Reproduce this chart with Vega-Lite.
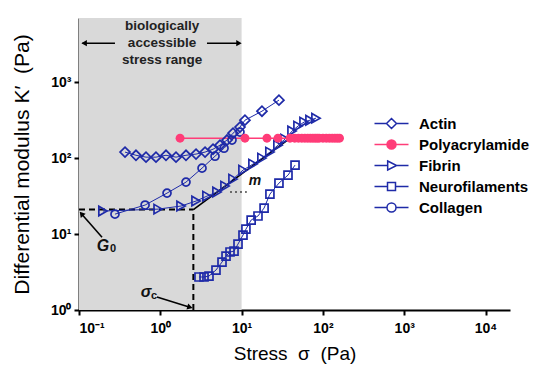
{
  "$schema": "https://vega.github.io/schema/vega-lite/v6.json",
  "width": 431,
  "height": 292,
  "autosize": "none",
  "padding": {"left": 79, "top": 18, "right": 23, "bottom": 60},
  "background": "white",
  "config": {
    "view": {"stroke": null},
    "font": "Liberation Sans",
    "legend": {
      "labelFont": "Liberation Sans",
      "labelFontSize": 15,
      "labelFontWeight": "bold",
      "labelColor": "black",
      "symbolSize": 289,
      "symbolStrokeWidth": 1.5,
      "symbolOpacity": 1,
      "rowPadding": 3,
      "labelOffset": 18
    }
  },
  "datasets": {
    "shade": [{"x0": 0.1, "x1": 10}],
    "series": [
      {"series": "Actin", "x": 0.368, "y": 120}, {"series": "Actin", "x": 0.502, "y": 109}, {"series": "Actin", "x": 0.667, "y": 103}, {"series": "Actin", "x": 0.885, "y": 103}, {"series": "Actin", "x": 1.175, "y": 109}, {"series": "Actin", "x": 1.56, "y": 103}, {"series": "Actin", "x": 2.07, "y": 109}, {"series": "Actin", "x": 2.75, "y": 113}, {"series": "Actin", "x": 3.55, "y": 120}, {"series": "Actin", "x": 4.45, "y": 131}, {"series": "Actin", "x": 5.42, "y": 148}, {"series": "Actin", "x": 6.61, "y": 173}, {"series": "Actin", "x": 7.84, "y": 213}, {"series": "Actin", "x": 9.55, "y": 256}, {"series": "Actin", "x": 11.0, "y": 316}, {"series": "Actin", "x": 17.8, "y": 415}, {"series": "Actin", "x": 28.8, "y": 580},
      {"series": "Polyacrylamide", "x": 1.75, "y": 183}, {"series": "Polyacrylamide", "x": 11.0, "y": 183}, {"series": "Polyacrylamide", "x": 20.5, "y": 183}, {"series": "Polyacrylamide", "x": 28, "y": 183}, {"series": "Polyacrylamide", "x": 39.4, "y": 183}, {"series": "Polyacrylamide", "x": 45, "y": 183}, {"series": "Polyacrylamide", "x": 50, "y": 183}, {"series": "Polyacrylamide", "x": 55, "y": 183}, {"series": "Polyacrylamide", "x": 60, "y": 183}, {"series": "Polyacrylamide", "x": 65, "y": 183}, {"series": "Polyacrylamide", "x": 70, "y": 183}, {"series": "Polyacrylamide", "x": 75, "y": 183}, {"series": "Polyacrylamide", "x": 80, "y": 183}, {"series": "Polyacrylamide", "x": 85, "y": 183}, {"series": "Polyacrylamide", "x": 90, "y": 183}, {"series": "Polyacrylamide", "x": 100, "y": 183}, {"series": "Polyacrylamide", "x": 110, "y": 183}, {"series": "Polyacrylamide", "x": 120, "y": 183}, {"series": "Polyacrylamide", "x": 130, "y": 183}, {"series": "Polyacrylamide", "x": 140, "y": 183}, {"series": "Polyacrylamide", "x": 150, "y": 183}, {"series": "Polyacrylamide", "x": 160, "y": 183},
      {"series": "Fibrin", "x": 0.197, "y": 20.1}, {"series": "Fibrin", "x": 0.94, "y": 21.3}, {"series": "Fibrin", "x": 1.8, "y": 23.4}, {"series": "Fibrin", "x": 2.75, "y": 27.2}, {"series": "Fibrin", "x": 3.75, "y": 31.6}, {"series": "Fibrin", "x": 4.98, "y": 35.7}, {"series": "Fibrin", "x": 6.25, "y": 42.8}, {"series": "Fibrin", "x": 7.84, "y": 52.9}, {"series": "Fibrin", "x": 10.4, "y": 69.5}, {"series": "Fibrin", "x": 13.8, "y": 83.4}, {"series": "Fibrin", "x": 17.8, "y": 100}, {"series": "Fibrin", "x": 22.3, "y": 120}, {"series": "Fibrin", "x": 28.0, "y": 148}, {"series": "Fibrin", "x": 34.2, "y": 178}, {"series": "Fibrin", "x": 41.7, "y": 227}, {"series": "Fibrin", "x": 49.4, "y": 264}, {"series": "Fibrin", "x": 58.6, "y": 298}, {"series": "Fibrin", "x": 69.4, "y": 316}, {"series": "Fibrin", "x": 82.2, "y": 336},
      {"series": "Neurofilaments", "x": 2.99, "y": 2.72}, {"series": "Neurofilaments", "x": 3.45, "y": 2.72}, {"series": "Neurofilaments", "x": 3.97, "y": 2.8}, {"series": "Neurofilaments", "x": 4.84, "y": 3.36}, {"series": "Neurofilaments", "x": 5.74, "y": 4.28}, {"series": "Neurofilaments", "x": 6.43, "y": 5.13}, {"series": "Neurofilaments", "x": 7.2, "y": 5.8}, {"series": "Neurofilaments", "x": 8.07, "y": 5.97}, {"series": "Neurofilaments", "x": 9.03, "y": 7.39}, {"series": "Neurofilaments", "x": 10.4, "y": 9.7}, {"series": "Neurofilaments", "x": 11.3, "y": 11.6}, {"series": "Neurofilaments", "x": 13.1, "y": 15.3}, {"series": "Neurofilaments", "x": 15.9, "y": 17.3}, {"series": "Neurofilaments", "x": 18.9, "y": 22.0}, {"series": "Neurofilaments", "x": 22.3, "y": 33.6}, {"series": "Neurofilaments", "x": 28.8, "y": 46.9}, {"series": "Neurofilaments", "x": 37.2, "y": 59.7}, {"series": "Neurofilaments", "x": 45.4, "y": 80.9},
      {"series": "Collagen", "x": 0.277, "y": 18.3}, {"series": "Collagen", "x": 0.65, "y": 24.1}, {"series": "Collagen", "x": 1.21, "y": 34.6}, {"series": "Collagen", "x": 2.07, "y": 48.3}, {"series": "Collagen", "x": 3.26, "y": 73.8}, {"series": "Collagen", "x": 4.71, "y": 106}, {"series": "Collagen", "x": 6.08, "y": 135}, {"series": "Collagen", "x": 7.62, "y": 173}, {"series": "Collagen", "x": 9.55, "y": 220}
    ],
    "dashed": [
      {"g": "h", "x": 0.1, "y": 21}, {"g": "h", "x": 2.55, "y": 21},
      {"g": "v", "x": 2.55, "y": 1}, {"g": "v", "x": 2.55, "y": 21}
    ],
    "solid": [
      {"g": "slope", "x": 2.55, "y": 21}, {"g": "slope", "x": 40, "y": 185},
      {"g": "g0", "x": 0.109, "y": 18.1}, {"g": "g0", "x": 0.192, "y": 9.1},
      {"g": "sc", "x": 0.91, "y": 1.48}, {"g": "sc", "x": 2.26, "y": 1.095},
      {"g": "topL", "x": 0.11, "y": 3260}, {"g": "topL", "x": 0.277, "y": 3260},
      {"g": "topR", "x": 3.75, "y": 3260}, {"g": "topR", "x": 9.2, "y": 3260}
    ],
    "dotted": [{"x": 7.2, "y": 35.7}, {"x": 11.6, "y": 35.7}],
    "heads": [
      {"h": "left", "x": 0.1186, "y": 3260},
      {"h": "right", "x": 9.04, "y": 3260},
      {"h": "g0", "x": 0.109, "y": 18.1},
      {"h": "sc", "x": 2.26, "y": 1.095}
    ],
    "notes": [
      {"k": "range", "x": 1.05, "y": 5460, "t": "biologically"},
      {"k": "range", "x": 1.05, "y": 3260, "t": "accessible"},
      {"k": "range", "x": 1.05, "y": 1946, "t": "stress range"},
      {"k": "big", "x": 0.197, "y": 6.95, "t": "G"},
      {"k": "sub", "x": 0.262, "y": 6.35, "t": "0"},
      {"k": "big", "x": 0.667, "y": 1.725, "t": "σ"},
      {"k": "sub", "x": 0.837, "y": 1.53, "t": "c"},
      {"k": "m", "x": 14.6, "y": 49.8, "t": "m"}
    ]
  },
  "layer": [
    {
      "data": {"name": "shade"},
      "mark": {"type": "rect", "color": "#d9d9d9"},
      "encoding": {
        "x": {"field": "x0", "type": "quantitative",
          "scale": {"type": "log", "domain": [0.1, 20000], "nice": false},
          "axis": {"title": "Stress\u00a0\u00a0σ\u00a0\u00a0(Pa)", "values": [0.1, 1, 10, 100, 1000, 10000],
            "labelExpr": "'10' + ['⁻¹','⁰','¹','²','³','⁴'][round(log(datum.value)/LN10)+1]",
            "grid": false, "domainColor": "black", "domainWidth": 2, "tickColor": "black", "tickWidth": 2, "tickSize": 5,
            "labelFont": "Liberation Sans", "labelFontSize": 14, "labelFontWeight": "bold", "labelColor": "black", "labelPadding": 6,
            "titleFont": "Liberation Sans", "titleFontSize": 19, "titleFontWeight": "normal", "titleColor": "black", "titlePadding": 9}},
        "x2": {"field": "x1"}
      }
    },
    {
      "data": {"name": "dashed"},
      "mark": {"type": "line", "color": "black", "strokeWidth": 2, "strokeDash": [6, 4]},
      "encoding": {
        "x": {"field": "x", "type": "quantitative", "scale": {"type": "log", "domain": [0.1, 20000], "nice": false}},
        "y": {"field": "y", "type": "quantitative",
          "scale": {"type": "log", "domain": [1, 7000], "nice": false},
          "axis": {"title": "Differential modulus K′\u00a0\u00a0(Pa)", "values": [1, 10, 100, 1000],
            "labelExpr": "'10' + ['⁻¹','⁰','¹','²','³','⁴'][round(log(datum.value)/LN10)+1]",
            "grid": false, "domainColor": "black", "domainWidth": 2, "tickColor": "black", "tickWidth": 2, "tickSize": 5,
            "labelFont": "Liberation Sans", "labelFontSize": 14, "labelFontWeight": "bold", "labelColor": "black", "labelPadding": 3,
            "titleFont": "Liberation Sans", "titleFontSize": 21, "titleFontWeight": "normal", "titleColor": "black", "titlePadding": 18}},
        "detail": {"field": "g"}
      }
    },
    {
      "data": {"name": "solid"},
      "mark": {"type": "line", "color": "black", "strokeWidth": 1.6},
      "encoding": {
        "x": {"field": "x", "type": "quantitative"},
        "y": {"field": "y", "type": "quantitative"},
        "detail": {"field": "g"}
      }
    },
    {
      "data": {"name": "dotted"},
      "mark": {"type": "line", "color": "#444", "strokeWidth": 1.5, "strokeDash": [2, 3]},
      "encoding": {
        "x": {"field": "x", "type": "quantitative"},
        "y": {"field": "y", "type": "quantitative"}
      }
    },
    {
      "data": {"name": "heads"},
      "transform": [{"filter": "datum.h == 'left'"}],
      "mark": {"type": "point", "shape": "triangle", "angle": 270, "filled": true, "color": "black", "size": 40, "opacity": 1},
      "encoding": {"x": {"field": "x", "type": "quantitative"}, "y": {"field": "y", "type": "quantitative"}}
    },
    {
      "data": {"name": "heads"},
      "transform": [{"filter": "datum.h == 'right'"}],
      "mark": {"type": "point", "shape": "triangle", "angle": 90, "filled": true, "color": "black", "size": 40, "opacity": 1},
      "encoding": {"x": {"field": "x", "type": "quantitative"}, "y": {"field": "y", "type": "quantitative"}}
    },
    {
      "data": {"name": "heads"},
      "transform": [{"filter": "datum.h == 'g0'"}],
      "mark": {"type": "point", "shape": "triangle", "angle": 320, "filled": true, "color": "black", "size": 40, "opacity": 1},
      "encoding": {"x": {"field": "x", "type": "quantitative"}, "y": {"field": "y", "type": "quantitative"}}
    },
    {
      "data": {"name": "heads"},
      "transform": [{"filter": "datum.h == 'sc'"}],
      "mark": {"type": "point", "shape": "triangle", "angle": 106, "filled": true, "color": "black", "size": 40, "opacity": 1},
      "encoding": {"x": {"field": "x", "type": "quantitative"}, "y": {"field": "y", "type": "quantitative"}}
    },
    {
      "data": {"name": "series"},
      "transform": [{"filter": "datum.series != 'Polyacrylamide'"}],
      "mark": {"type": "line", "color": "#1e2aa8", "strokeWidth": 1},
      "encoding": {
        "x": {"field": "x", "type": "quantitative"},
        "y": {"field": "y", "type": "quantitative"},
        "detail": {"field": "series"}
      }
    },
    {
      "data": {"name": "series"},
      "transform": [{"filter": "datum.series == 'Polyacrylamide'"}],
      "mark": {"type": "line", "color": "#ff3c78", "strokeWidth": 1.5},
      "encoding": {
        "x": {"field": "x", "type": "quantitative"},
        "y": {"field": "y", "type": "quantitative"}
      }
    },
    {
      "data": {"name": "series"},
      "transform": [{"filter": "datum.series == 'Actin'"}],
      "mark": {"type": "point", "shape": "diamond", "filled": false, "color": "#1e2aa8", "strokeWidth": 1.7, "size": 100, "opacity": 1},
      "encoding": {"x": {"field": "x", "type": "quantitative"}, "y": {"field": "y", "type": "quantitative"}}
    },
    {
      "data": {"name": "series"},
      "transform": [{"filter": "datum.series == 'Fibrin'"}],
      "mark": {"type": "point", "shape": "triangle-right", "filled": false, "color": "#1e2aa8", "strokeWidth": 1.7, "size": 90, "opacity": 1},
      "encoding": {"x": {"field": "x", "type": "quantitative"}, "y": {"field": "y", "type": "quantitative"}}
    },
    {
      "data": {"name": "series"},
      "transform": [{"filter": "datum.series == 'Neurofilaments'"}],
      "mark": {"type": "point", "shape": "square", "filled": false, "color": "#1e2aa8", "strokeWidth": 1.7, "size": 64, "opacity": 1},
      "encoding": {"x": {"field": "x", "type": "quantitative"}, "y": {"field": "y", "type": "quantitative"}}
    },
    {
      "data": {"name": "series"},
      "transform": [{"filter": "datum.series == 'Collagen'"}],
      "mark": {"type": "point", "shape": "circle", "filled": false, "color": "#1e2aa8", "strokeWidth": 1.7, "size": 64, "opacity": 1},
      "encoding": {"x": {"field": "x", "type": "quantitative"}, "y": {"field": "y", "type": "quantitative"}}
    },
    {
      "data": {"name": "series"},
      "transform": [{"filter": "datum.series == 'Polyacrylamide'"}],
      "mark": {"type": "point", "shape": "circle", "filled": true, "color": "#ff3c78", "size": 80, "opacity": 1},
      "encoding": {"x": {"field": "x", "type": "quantitative"}, "y": {"field": "y", "type": "quantitative"}}
    },
    {
      "data": {"name": "notes"},
      "transform": [{"filter": "datum.k == 'range'"}],
      "mark": {"type": "text", "font": "Liberation Sans", "fontSize": 13.5, "fontWeight": "bold", "color": "#222", "align": "center", "baseline": "middle"},
      "encoding": {"x": {"field": "x", "type": "quantitative"}, "y": {"field": "y", "type": "quantitative"}, "text": {"field": "t"}}
    },
    {
      "data": {"name": "notes"},
      "transform": [{"filter": "datum.k == 'big'"}],
      "mark": {"type": "text", "font": "Liberation Sans", "fontSize": 16, "fontWeight": "bold", "fontStyle": "italic", "color": "#111", "align": "center", "baseline": "middle"},
      "encoding": {"x": {"field": "x", "type": "quantitative"}, "y": {"field": "y", "type": "quantitative"}, "text": {"field": "t"}}
    },
    {
      "data": {"name": "notes"},
      "transform": [{"filter": "datum.k == 'sub'"}],
      "mark": {"type": "text", "font": "Liberation Sans", "fontSize": 11, "fontWeight": "bold", "color": "#111", "align": "center", "baseline": "middle"},
      "encoding": {"x": {"field": "x", "type": "quantitative"}, "y": {"field": "y", "type": "quantitative"}, "text": {"field": "t"}}
    },
    {
      "data": {"name": "notes"},
      "transform": [{"filter": "datum.k == 'm'"}],
      "mark": {"type": "text", "font": "Liberation Sans", "fontSize": 14, "fontWeight": "bold", "fontStyle": "italic", "color": "#111", "align": "center", "baseline": "middle"},
      "encoding": {"x": {"field": "x", "type": "quantitative"}, "y": {"field": "y", "type": "quantitative"}, "text": {"field": "t"}}
    },
    {
      "data": {"name": "series"},
      "mark": {"type": "point", "filled": false, "opacity": 0, "strokeWidth": 1.5},
      "encoding": {
        "x": {"field": "x", "type": "quantitative"},
        "y": {"field": "y", "type": "quantitative"},
        "color": {"field": "series", "type": "nominal",
          "scale": {"domain": ["Actin", "Polyacrylamide", "Fibrin", "Neurofilaments", "Collagen"],
            "range": ["#1e2aa8", "#ff3c78", "#1e2aa8", "#1e2aa8", "#1e2aa8"]},
          "legend": {"title": null, "orient": "none", "legendX": 303, "legendY": 96}},
        "shape": {"field": "series", "type": "nominal",
          "scale": {"domain": ["Actin", "Polyacrylamide", "Fibrin", "Neurofilaments", "Collagen"],
            "range": [
              "M-2,0H-0.59M0.59,0H2M-0.59,0L0,-0.59L0.59,0L0,0.59Z",
              "M-2,0H2M-0.53,0A0.53,0.53,0,1,0,0.53,0A0.53,0.53,0,1,0,-0.53,0ZM-0.36,0A0.36,0.36,0,1,0,0.36,0A0.36,0.36,0,1,0,-0.36,0ZM-0.2,0A0.2,0.2,0,1,0,0.2,0A0.2,0.2,0,1,0,-0.2,0ZM-0.06,0A0.06,0.06,0,1,0,0.06,0A0.06,0.06,0,1,0,-0.06,0Z",
              "M-2,0H-0.45M0.6,0H2M-0.45,-0.53L0.6,0L-0.45,0.53Z",
              "M-2,0H-0.47M0.47,0H2M-0.47,-0.47H0.47V0.47H-0.47Z",
              "M-2,0H-0.53M0.53,0H2M-0.53,0A0.53,0.53,0,1,0,0.53,0A0.53,0.53,0,1,0,-0.53,0Z"
            ]},
          "legend": {"title": null, "orient": "none", "legendX": 303, "legendY": 96}}
      }
    }
  ]
}
